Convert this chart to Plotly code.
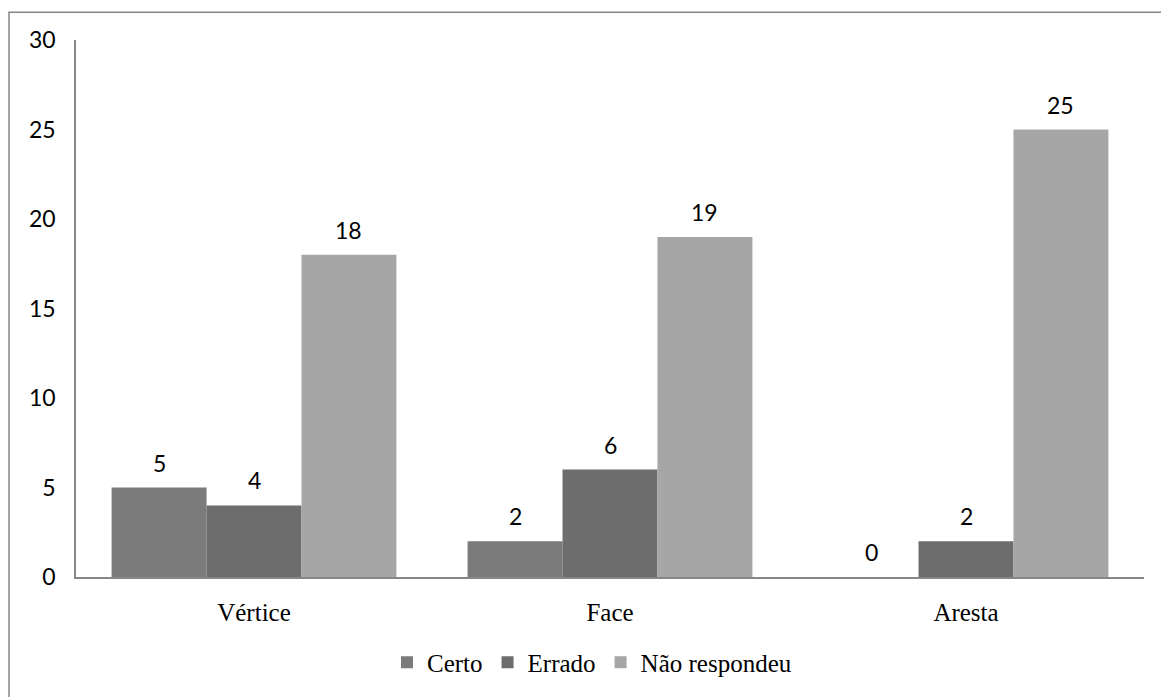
import plotly.graph_objects as go

categories = ["Vértice", "Face", "Aresta"]
series_names = ["Certo", "Errado", "Não respondeu"]
certo = [5, 2, 0]
errado = [4, 6, 2]
nao_respondeu = [18, 19, 25]
series_values = [certo, errado, nao_respondeu]
colors = ["#7b7b7b", "#6d6d6d", "#a6a6a6"]
y_ticks = [0, 5, 10, 15, 20, 25, 30]

SERIF = "Liberation Serif, Times New Roman, serif"
SANS = "Lato, Carlito, sans-serif"

BARGAP = 0.2
n_series = len(series_names)
bar_w = (1 - BARGAP) / n_series
x_idx = list(range(len(categories)))

fig = go.Figure()
for name, vals, col in zip(series_names, series_values, colors):
    fig.add_trace(go.Bar(
        x=x_idx, y=vals, name=name,
        marker=dict(color=col, line=dict(width=0)),
    ))

# value labels above each bar
for j, vals in enumerate(series_values):
    for i, v in enumerate(vals):
        fig.add_annotation(
            x=i + (j - (n_series - 1) / 2) * bar_w, y=v,
            text=str(v), showarrow=False,
            xref="x", yref="y", yanchor="middle", yshift=25,
            font=dict(family=SANS, size=23, color="#000000"),
        )

# chart frame (left and top edges visible)
L, R, T, B = 76, 17, 40, 117
W, H = 1161, 697
pw, ph = W - L - R, H - T - B
fig.add_shape(
    type="rect", xref="paper", yref="paper",
    x0=(9 - L) / pw, x1=(W + 20 - L) / pw,
    y0=(H - B - (H + 20)) / ph, y1=(H - B - 12) / ph,
    line=dict(color="#878787", width=1.5), fillcolor="rgba(0,0,0,0)",
    layer="below",
)

fig.update_layout(
    width=W, height=H,
    margin=dict(l=L, r=R, t=T, b=B),
    font=dict(family=SERIF, size=25, color="#000000"),
    paper_bgcolor="white", plot_bgcolor="white",
    barmode="group", bargap=BARGAP, bargroupgap=0,
    showlegend=True,
    legend=dict(
        orientation="h", x=(592 - L) / pw, xanchor="center",
        y=(H - B - 666) / ph, yanchor="middle",
        font=dict(family=SERIF, size=25, color="#000000"),
        itemclick=False, itemdoubleclick=False,
        itemwidth=30, tracegroupgap=0,
    ),
    xaxis=dict(
        tickmode="array", tickvals=x_idx, ticktext=categories,
        range=[-0.5, len(categories) - 0.5],
        showline=True, linecolor="#878787", linewidth=1.5,
        showgrid=False, zeroline=False, ticks="",
        ticklabelstandoff=12,
        tickfont=dict(family=SERIF, size=25, color="#000000"),
    ),
    yaxis=dict(
        range=[0, 30], tickmode="array", tickvals=y_ticks,
        showline=True, linecolor="#878787", linewidth=1.5,
        showgrid=False, zeroline=False, ticks="",
        ticklabelstandoff=14,
        tickfont=dict(family=SANS, size=23, color="#000000"),
    ),
)

fig.write_html("out.html")
